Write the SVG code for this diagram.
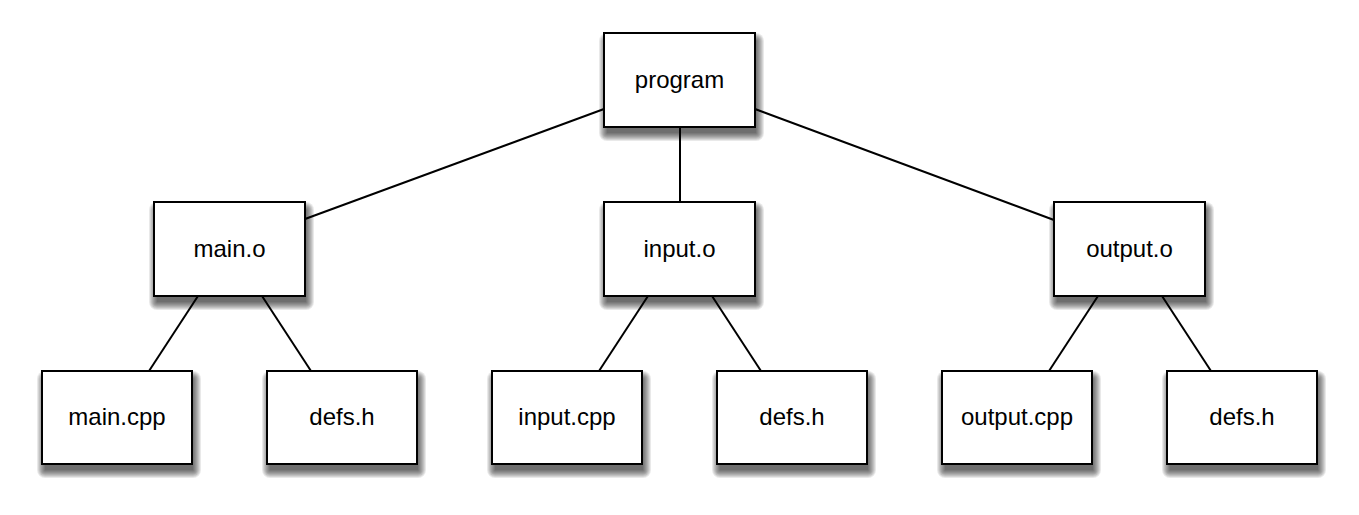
<svg xmlns="http://www.w3.org/2000/svg" width="1359" height="515" viewBox="0 0 1359 515">
<style>
.box{fill:#fff;stroke:#000;stroke-width:2}
.sl rect{fill:#000;fill-opacity:0.085}
.lbl{font-family:"Liberation Sans",Arial,sans-serif;font-size:24px;text-anchor:middle;fill:#000}
.edge{stroke:#000;stroke-width:2;fill:none}
</style>
<defs>
<g id="shA" class="sl">
<rect x="3" y="8" width="149" height="92"/>
<rect x="2" y="7" width="151" height="94" rx="1"/>
<rect x="1" y="6" width="153" height="96" rx="2"/>
<rect x="0" y="5" width="155" height="98" rx="3"/>
<rect x="-1" y="4" width="157" height="100" rx="4"/>
<rect x="-2" y="3" width="159" height="102" rx="5"/>
<rect x="-3" y="2" width="161" height="104" rx="6"/>
<rect x="-4" y="1" width="163" height="106" rx="7"/>
<rect x="-5" y="0" width="165" height="108" rx="8"/>
</g>
<g id="shB" class="sl">
<rect x="3" y="8" width="148" height="91"/>
<rect x="2" y="7" width="150" height="93" rx="1"/>
<rect x="1" y="6" width="152" height="95" rx="2"/>
<rect x="0" y="5" width="154" height="97" rx="3"/>
<rect x="-1" y="4" width="156" height="99" rx="4"/>
<rect x="-2" y="3" width="158" height="101" rx="5"/>
<rect x="-3" y="2" width="160" height="103" rx="6"/>
<rect x="-4" y="1" width="162" height="105" rx="7"/>
<rect x="-5" y="0" width="164" height="107" rx="8"/>
</g>
</defs>
<rect width="1359" height="515" fill="#fff"/>
<g id="connectors">
<line class="edge" x1="604" y1="109" x2="305" y2="219"/>
<line class="edge" x1="680" y1="127" x2="680" y2="202"/>
<line class="edge" x1="755" y1="109" x2="1054" y2="220"/>
<line class="edge" x1="198" y1="296" x2="149" y2="371"/>
<line class="edge" x1="262" y1="296" x2="311" y2="371"/>
<line class="edge" x1="648" y1="296" x2="599" y2="371"/>
<line class="edge" x1="712" y1="296" x2="761" y2="371"/>
<line class="edge" x1="1098" y1="296" x2="1049" y2="371"/>
<line class="edge" x1="1162" y1="296" x2="1211" y2="371"/>
</g>
<g id="program"><use href="#shA" x="604" y="33"/><rect class="box" x="604" y="33" width="151" height="94"/><text class="lbl" x="679.5" y="88">program</text></g>
<g id="main_o"><use href="#shA" x="154" y="202"/><rect class="box" x="154" y="202" width="151" height="94"/><text class="lbl" x="229.5" y="257">main.o</text></g>
<g id="input_o"><use href="#shA" x="604" y="202"/><rect class="box" x="604" y="202" width="151" height="94"/><text class="lbl" x="679.5" y="257">input.o</text></g>
<g id="output_o"><use href="#shA" x="1054" y="202"/><rect class="box" x="1054" y="202" width="151" height="94"/><text class="lbl" x="1129.5" y="257">output.o</text></g>
<g id="main_cpp"><use href="#shB" x="42" y="371"/><rect class="box" x="42" y="371" width="150" height="93"/><text class="lbl" x="117" y="425">main.cpp</text></g>
<g id="defs_h_1"><use href="#shB" x="267" y="371"/><rect class="box" x="267" y="371" width="150" height="93"/><text class="lbl" x="342" y="425">defs.h</text></g>
<g id="input_cpp"><use href="#shB" x="492" y="371"/><rect class="box" x="492" y="371" width="150" height="93"/><text class="lbl" x="567" y="425">input.cpp</text></g>
<g id="defs_h_2"><use href="#shB" x="717" y="371"/><rect class="box" x="717" y="371" width="150" height="93"/><text class="lbl" x="792" y="425">defs.h</text></g>
<g id="output_cpp"><use href="#shB" x="942" y="371"/><rect class="box" x="942" y="371" width="150" height="93"/><text class="lbl" x="1017" y="425">output.cpp</text></g>
<g id="defs_h_3"><use href="#shB" x="1167" y="371"/><rect class="box" x="1167" y="371" width="150" height="93"/><text class="lbl" x="1242" y="425">defs.h</text></g>
</svg>
